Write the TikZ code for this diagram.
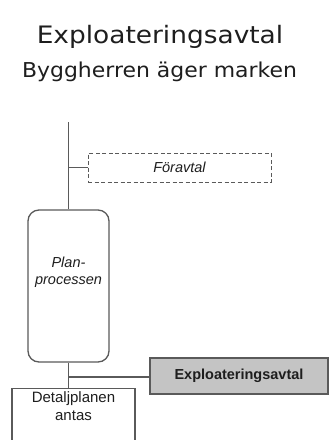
\documentclass[tikz,border=0pt]{standalone}
\usepackage{fontspec}
\setmainfont{Liberation Sans}
\newfontfamily\titlefont[FakeStretch=1.1]{DejaVu Sans}
\newfontfamily\subtitlefont[FakeStretch=1.07]{DejaVu Sans}
\definecolor{linegray}{HTML}{5A5A5A}
\definecolor{boxgray}{HTML}{C4C4C4}
\definecolor{textdark}{HTML}{1E1E1E}

\begin{document}
\begin{tikzpicture}[x=1pt,y=-1pt]
% cadre
\clip (0,0) rectangle (329,440);
\fill[white] (0,0) rectangle (329,440);
% style des nœuds
\tikzstyle{titre}=[anchor=base,text=textdark,inner sep=0pt]
\tikzstyle{etape}=[rectangle,draw=linegray,line width=1.3pt,text=textdark,align=center,font=\fontsize{14.5}{17}\selectfont]
% style des traits
\tikzstyle{lien}=[draw=linegray,line width=1.3pt]
% titres
\node[titre,font=\titlefont\fontsize{24}{28}\selectfont] (T1) at (160,43.5) {Exploateringsavtal};
\node[titre,font=\subtitlefont\fontsize{20.5}{24}\selectfont] (T2) at (159.5,77.5) {Byggherren äger marken};
% placement des nœuds
\node[etape,dashed,line width=1pt,dash pattern=on 4pt off 2.5pt,minimum width=183,minimum height=29,font=\itshape\fontsize{14.5}{17}\selectfont] (FA) at (179.5,167.5) {Föravtal};
\node[etape,rounded corners=11pt,minimum width=81,minimum height=152,font=\itshape\fontsize{14.5}{17}\selectfont] (PP) at (68.5,286) {Plan-\\processen\\[14pt]};
\node[etape,fill=boxgray,minimum width=178,minimum height=36,font=\bfseries\fontsize{14.5}{17}\selectfont] (EA) at (239,376) {Exploateringsavtal};
\node[etape,anchor=north,minimum width=123,inner ysep=3pt,text depth=40pt,font=\fontsize{15}{17.5}\selectfont] (DA) at (73.5,388) {Detaljplanen\\antas};
% placement des traits
\coordinate (haut) at (68.5,122);
\coordinate (jFA) at (68.5,167.5);
\coordinate (jEA) at (68.5,377);
\draw[lien] (haut) -- (PP.north);
\draw[lien] (jFA) -- (FA.west);
\draw[lien] (PP.south) -- (PP.south |- DA.north);
\draw[lien] (jEA) -- (jEA -| EA.west);
\end{tikzpicture}
\end{document}
